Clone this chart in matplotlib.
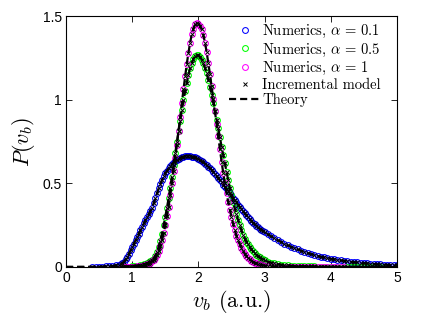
import numpy as np
import matplotlib
matplotlib.use('Agg')
import matplotlib.pyplot as plt

plt.rcParams['mathtext.fontset'] = 'cm'
plt.rcParams['axes.unicode_minus'] = False

# v_b grid (a.u.): finer where the curves are steep
vb = np.round(np.r_[np.arange(0, 0.79, 0.05),
                    np.arange(0.8, 2.99, 0.025),
                    np.arange(3.0, 5.001, 0.05)], 3)

# P(v_b), alpha = 0.1
p_01 = [0, 0, 0, 0, 0, 0, 0, 0, 0, 0.001, 0.001, 0.002, 0.003, 0.004, 0.006, 0.009,
        # 0.8 .. 2.975
        0.014, 0.017, 0.022, 0.032, 0.045, 0.062, 0.08, 0.10, 0.12, 0.14,
        0.16, 0.18, 0.2, 0.22, 0.24, 0.26, 0.28, 0.297, 0.315, 0.334,
        0.355, 0.382, 0.41, 0.44, 0.47, 0.496, 0.52, 0.541, 0.56, 0.576,
        0.59, 0.603, 0.615, 0.626, 0.635, 0.642, 0.648, 0.653, 0.657, 0.66,
        0.662, 0.663, 0.663, 0.662, 0.66, 0.658, 0.655, 0.65, 0.645, 0.639,
        0.632, 0.625, 0.618, 0.609, 0.6, 0.59, 0.58, 0.568, 0.555, 0.543,
        0.53, 0.518, 0.505, 0.493, 0.48, 0.468, 0.455, 0.443, 0.43, 0.415,
        0.4, 0.386, 0.373, 0.359, 0.345, 0.332, 0.32, 0.308, 0.297, 0.286,
        0.275, 0.265, 0.255, 0.246, 0.237, 0.229, 0.222, 0.215,
        # 3.0 .. 5.0
        0.208, 0.195, 0.183, 0.171, 0.16, 0.15, 0.14, 0.13, 0.121, 0.113,
        0.105, 0.098, 0.091, 0.084, 0.078, 0.072, 0.066, 0.061, 0.057, 0.053,
        0.049, 0.046, 0.043, 0.04, 0.037, 0.034, 0.031, 0.029, 0.027, 0.025,
        0.023, 0.021, 0.019, 0.018, 0.016, 0.015, 0.014, 0.013, 0.012, 0.011,
        0.01]

# alpha = 0.5
p_05 = [0, 0, 0, 0, 0, 0, 0, 0, 0, 0, 0, 0, 0, 0, 0, 0,
        0, 0, 0, 0.0005, 0.001, 0.0015, 0.002, 0.0025, 0.003, 0.004,
        0.005, 0.0065, 0.008, 0.01, 0.012, 0.015, 0.018, 0.022, 0.027, 0.033,
        0.04, 0.05, 0.065, 0.09, 0.12, 0.157, 0.2, 0.248, 0.3, 0.354,
        0.41, 0.473, 0.54, 0.61, 0.68, 0.745, 0.81, 0.875, 0.94, 0.997,
        1.05, 1.1, 1.15, 1.188, 1.22, 1.243, 1.26, 1.266, 1.265, 1.255,
        1.24, 1.217, 1.19, 1.157, 1.12, 1.076, 1.03, 0.98, 0.93, 0.88,
        0.83, 0.775, 0.72, 0.67, 0.62, 0.57, 0.52, 0.474, 0.43, 0.39,
        0.35, 0.314, 0.28, 0.249, 0.22, 0.194, 0.17, 0.152, 0.135, 0.12,
        0.105, 0.093, 0.082, 0.073, 0.064, 0.057, 0.05, 0.045,
        0.04, 0.032, 0.026, 0.021, 0.017, 0.014, 0.011, 0.009, 0.0075, 0.006,
        0.005, 0.0045, 0.004, 0.0035, 0.003, 0.003, 0.0025, 0.002, 0.002, 0.002,
        0.0015, 0.0015, 0.001, 0.001, 0.001, 0.001, 0.001, 0.001, 0.0005, 0.0005,
        0.0005, 0.0005, 0.0005, 0.0005, 0.0005, 0.0005, 0, 0, 0, 0,
        0]

# alpha = 1
p_1 = [0, 0, 0, 0, 0, 0, 0, 0, 0, 0, 0, 0, 0, 0, 0, 0,
       0, 0, 0, 0.0003, 0.0005, 0.0008, 0.001, 0.001, 0.001, 0.0015,
       0.002, 0.003, 0.004, 0.0055, 0.007, 0.009, 0.012, 0.016, 0.02, 0.026,
       0.033, 0.043, 0.055, 0.072, 0.095, 0.125, 0.16, 0.202, 0.25, 0.302,
       0.36, 0.428, 0.5, 0.575, 0.65, 0.73, 0.81, 0.895, 0.98, 1.062,
       1.14, 1.215, 1.28, 1.34, 1.39, 1.425, 1.45, 1.458, 1.455, 1.442,
       1.42, 1.385, 1.34, 1.284, 1.22, 1.152, 1.08, 1.005, 0.93, 0.855,
       0.78, 0.705, 0.63, 0.563, 0.5, 0.443, 0.39, 0.343, 0.3, 0.258,
       0.22, 0.188, 0.16, 0.136, 0.115, 0.096, 0.08, 0.066, 0.055, 0.046,
       0.038, 0.031, 0.026, 0.022, 0.018, 0.015, 0.012, 0.01,
       0.008, 0.006, 0.004, 0.003, 0.002, 0.002, 0.0015, 0.001, 0.001, 0.001,
       0.0005, 0.0005, 0.0005, 0.0005, 0.0005, 0.0005, 0.0005, 0.0005, 0.0005, 0.0005,
       0.0005, 0.0005, 0.0005, 0.0005, 0.0005, 0, 0, 0, 0, 0,
       0, 0, 0, 0, 0, 0, 0, 0, 0, 0,
       0]

# v_b span covered by the simulated points
ranges = [(0.4, 5.0), (0.85, 4.75), (0.85, 4.2)]
alphas = ['0.1', '0.5', '1']
colors = ['#0000ff', '#00ff00', '#ff00ff']
curves = [np.array(p_01), np.array(p_05), np.array(p_1)]

cm_font = {'family': 'cmr10'}

fig = plt.figure(figsize=(4.27, 3.32), dpi=100)
ax = fig.add_axes([0.1546, 0.1958, 0.775, 0.756])

handles = []
for p, (lo, hi), a, c in zip(curves, ranges, alphas, colors):
    m = (vb >= lo - 1e-9) & (vb <= hi + 1e-9)
    h, = ax.plot(vb[m], p[m], 'o', ms=4.2, mfc='none', mec=c, mew=0.75,
                 label=r'Numerics, $\alpha\,=\,%s$' % a)
    handles.append(h)

for p, (lo, hi) in zip(curves, ranges):
    m = (vb >= lo - 1e-9) & (vb <= hi + 1e-9)
    hx, = ax.plot(vb[m], p[m], 'x', ms=3, mec='k', mew=0.7,
                  label='Incremental model')
handles.append(hx)

for p in curves:
    ht, = ax.plot(vb, p, '--', color='k', lw=1.6, dashes=(3.2, 1.8),
                  label='Theory')
handles.append(ht)

ax.set_xlim(0, 5)
ax.set_ylim(0, 1.5)
ax.set_xticks([0, 1, 2, 3, 4, 5])
ax.set_yticks([0, 0.5, 1, 1.5])
ax.set_yticklabels(['0', '0.5', '1', '1.5'])
ax.tick_params(direction='in', top=True, right=True, length=4, width=0.6,
               labelsize=10, pad=3)
for lab in ax.get_xticklabels() + ax.get_yticklabels():
    lab.set_fontfamily('Liberation Sans')
for s in ax.spines.values():
    s.set_linewidth(0.8)

ax.set_xlabel(r'$v_b$ (a.u.)', fontsize=16, fontdict=cm_font, labelpad=2)
ax.set_ylabel(r'$P(v_b)$', fontsize=16, fontdict=cm_font, labelpad=4)

leg = ax.legend(handles=handles, loc='upper right', bbox_to_anchor=(0.973, 1.0),
                frameon=False, prop={'family': 'cmr10', 'size': 10.5},
                handlelength=2.2, handletextpad=0.1, labelspacing=0.08,
                borderaxespad=0.2, borderpad=0.3)

fig.savefig('out.png', dpi=100)
